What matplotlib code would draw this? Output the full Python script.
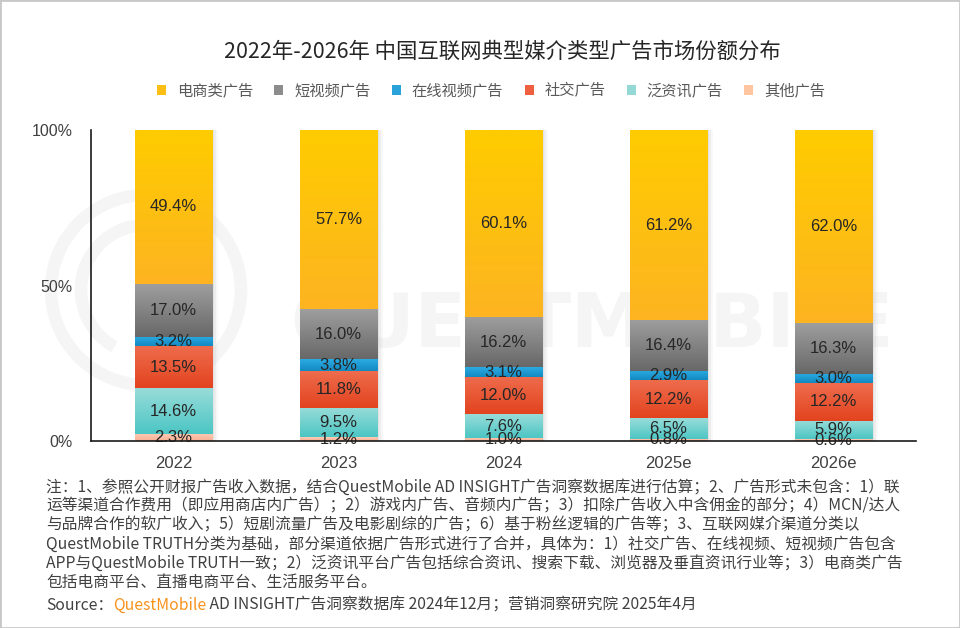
import numpy as np
import matplotlib
matplotlib.use('Agg')
import matplotlib.pyplot as plt
from matplotlib.colors import LinearSegmentedColormap
from matplotlib.patches import Ellipse, Arc, Rectangle

CJK = ['Noto Sans CJK SC', 'DejaVu Sans']
LAT = ['Liberation Sans', 'DejaVu Sans']

years = ['2022', '2023', '2024', '2025e', '2026e']
# stacked from the bottom up
other = [2.3, 1.2, 1.0, 0.8, 0.6]
news = [14.6, 9.5, 7.6, 6.5, 5.9]
social = [13.5, 11.8, 12.0, 12.2, 12.2]
online_video = [3.2, 3.8, 3.1, 2.9, 3.0]
short_video = [17.0, 16.0, 16.2, 16.4, 16.3]
ecommerce = [49.4, 57.7, 60.1, 61.2, 62.0]

series = [
    ('其他广告', other, '#FFC4A0', '#FFCBB5', '#F9B095'),
    ('泛资讯广告', news, '#95D9D6', '#98DCD9', '#4CC6C4'),
    ('社交广告', social, '#EE6040', '#EE6C4C', '#E3431F'),
    ('在线视频广告', online_video, '#29A3DA', '#2BABE2', '#1489C2'),
    ('短视频广告', short_video, '#8C8C8C', '#9E9E9E', '#686868'),
    ('电商类广告', ecommerce, '#FDBE14', '#FFCC00', '#FDB421'),
]
legend_order = ['电商类广告', '短视频广告', '在线视频广告', '社交广告', '泛资讯广告', '其他广告']

fig = plt.figure(figsize=(9.6, 6.28), dpi=100)
ax = fig.add_axes([91 / 960, 1 - 441 / 628, 825 / 960, 311 / 628])
ax.patch.set_alpha(0)

# faint watermark behind the plot
fig.text(290 / 960, 1 - 347 / 628, 'QUESTMOBILE', fontsize=54, fontweight='bold',
         color='#F5F5F5', family='DejaVu Sans', va='baseline', ha='left', zorder=-1)
fig.patches.append(Ellipse((146 / 960, 1 - 290 / 628), 190 / 960, 190 / 628, fill=False,
                           lw=9, ec='#F5F5F5', transform=fig.transFigure, zorder=-1))
fig.patches.append(Arc((146 / 960, 1 - 290 / 628), 130 / 960, 130 / 628, theta1=90, theta2=250,
                       lw=9, color='#F5F5F5', transform=fig.transFigure, zorder=-1))

x = np.arange(len(years))
w = 0.47

# soft shadow on the right side of each bar
for off, a in [(0.012, 0.35), (0.022, 0.25), (0.032, 0.15)]:
    ax.bar(x + off, [100] * len(x), w, bottom=0, color='#D0D0D0', alpha=a, zorder=1, lw=0)

bottom = np.zeros(len(x))
handles = {}
for name, vals, mid, top, bot in series:
    bars = ax.bar(x, vals, w, bottom=bottom, color=mid, label=name, zorder=2, lw=0)
    handles[name] = bars
    cmap = LinearSegmentedColormap.from_list(name, [bot, top])
    grad = np.linspace(0, 1, 64).reshape(-1, 1)
    for p, v in zip(bars.patches, vals):
        x0, y0 = p.get_x(), p.get_y()
        ax.imshow(grad, extent=(x0, x0 + p.get_width(), y0, y0 + p.get_height()),
                  origin='lower', cmap=cmap, aspect='auto', zorder=3, interpolation='bilinear')
        ax.text(x0 + p.get_width() / 2, y0 + p.get_height() / 2, f'{v:.1f}%',
                ha='center', va='center', fontsize=12, color='#262626', family=LAT, zorder=5)
    bottom += np.array(vals)

ax.set_xlim(-0.5, len(x) - 0.5)
ax.set_ylim(0, 100)
ax.set_xticks(x)
ax.set_xticklabels(years, family=LAT, fontsize=12, color='#404040')
ax.set_yticks([0, 50, 100])
ax.set_yticklabels(['0%', '50%', '100%'], family=LAT, fontsize=11.5, color='#404040')
ax.tick_params(length=0)
ax.tick_params(axis='x', pad=11)
ax.tick_params(axis='y', pad=13)
for s in ['top', 'right']:
    ax.spines[s].set_visible(False)
for s in ['left', 'bottom']:
    ax.spines[s].set_color('#1A1A1A')
    ax.spines[s].set_linewidth(1.2)
    ax.spines[s].set_zorder(6)

fig.text(502 / 960, 1 - 52 / 628, '2022年-2026年 中国互联网典型媒介类型广告市场份额分布',
         ha='center', va='center', fontsize=15.4, color='#262626', family=CJK)

leg = fig.legend([handles[n] for n in legend_order], legend_order, loc='center',
                 bbox_to_anchor=(491 / 960, 1 - 91 / 628), ncol=6, frameon=False,
                 prop={'family': CJK, 'size': 11}, handlelength=0.6, handleheight=0.6,
                 handletextpad=0.7, columnspacing=1.4)
for t in leg.get_texts():
    t.set_color('#595959')

notes = [
    '注：1、参照公开财报广告收入数据，结合QuestMobile AD INSIGHT广告洞察数据库进行估算；2、广告形式未包含：1）联',
    '运等渠道合作费用（即应用商店内广告）；2）游戏内广告、音频内广告；3）扣除广告收入中含佣金的部分；4）MCN/达人',
    '与品牌合作的软广收入；5）短剧流量广告及电影剧综的广告；6）基于粉丝逻辑的广告等；3、互联网媒介渠道分类以',
    'QuestMobile TRUTH分类为基础，部分渠道依据广告形式进行了合并，具体为：1）社交广告、在线视频、短视频广告包含',
    'APP与QuestMobile TRUTH一致；2）泛资讯平台广告包括综合资讯、搜索下载、浏览器及垂直资讯行业等；3）电商类广告',
    '包括电商平台、直播电商平台、生活服务平台。',
]
for i, line in enumerate(notes):
    fig.text(46 / 960, 1 - (487 + i * 19) / 628, line, ha='left', va='center',
             fontsize=11.3, color='#404040', family=CJK)

# source line with orange brand name
renderer = fig.canvas.get_renderer()
parts = [('Source：', '#404040'), ('QuestMobile', '#F7931E'),
         (' AD INSIGHT广告洞察数据库 2024年12月；营销洞察研究院 2025年4月', '#404040')]
xpos = 46
for txt, col in parts:
    t = fig.text(xpos / 960, 1 - 605 / 628, txt, ha='left', va='center',
                 fontsize=11.3, color=col, family=CJK)
    xpos += t.get_window_extent(renderer).width

fig.patches.append(Rectangle((0, 0), 1, 1, fill=False, ec='#C8C8C8', lw=2,
                             transform=fig.transFigure, zorder=10))

fig.savefig('out.png', dpi=100)
